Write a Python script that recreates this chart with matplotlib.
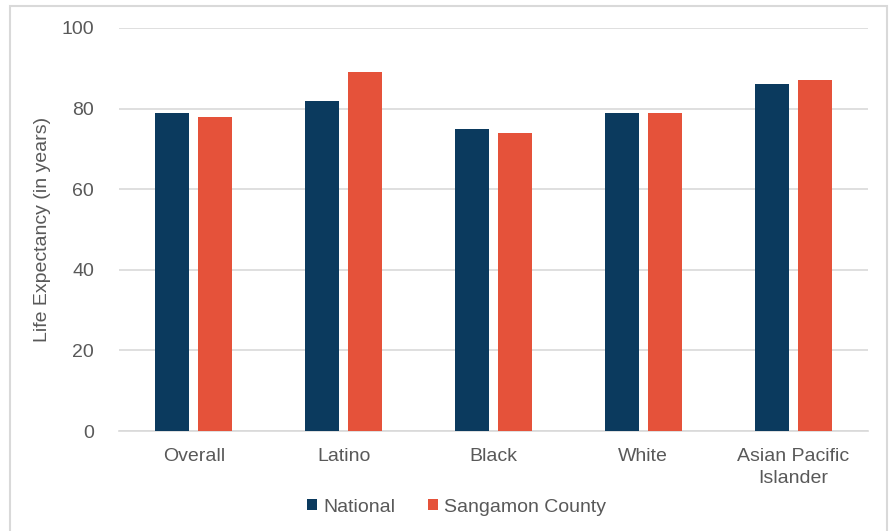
import matplotlib
matplotlib.use("Agg")
import matplotlib.pyplot as plt
import numpy as np
from matplotlib.patches import Rectangle

plt.rcParams["font.family"] = ["Liberation Sans", "DejaVu Sans"]

categories = ["Overall", "Latino", "Black", "White", "Asian Pacific\nIslander"]
national = [79, 82, 75, 79, 86]
sangamon = [78, 89, 74, 79, 87]
series_names = ["National", "Sangamon County"]
yticks = [0, 20, 40, 60, 80, 100]

NAVY = "#0B3A5E"
ORANGE = "#E5523A"
GRID = "#D9D9D9"
TEXT = "#595959"

W, H = 895, 531
fig = plt.figure(figsize=(W / 100, H / 100), dpi=100)
# axes box in pixels: x 119..868, y 28..431
ax = fig.add_axes([119 / W, 1 - 431 / H, (868 - 119) / W, (431 - 28) / H])

x = np.arange(len(categories))
bw = 0.227
off = 0.144
ax.bar(x - off, national, bw, color=NAVY, label=series_names[0], zorder=3)
ax.bar(x + off, sangamon, bw, color=ORANGE, label=series_names[1], zorder=3)

ax.set_xlim(-0.5, len(categories) - 0.5)
ax.set_ylim(0, 100)
ax.set_yticks(yticks)
ax.set_xticks(x)
ax.set_xticklabels(categories, linespacing=1.4)
ax.tick_params(axis="both", length=0, labelsize=14, colors=TEXT)
ax.tick_params(axis="y", pad=18)
ax.tick_params(axis="x", pad=12)
ax.grid(axis="y", color=GRID, linewidth=1.2, zorder=0)
for s in ["top", "right", "left"]:
    ax.spines[s].set_visible(False)
ax.spines["bottom"].set_color(GRID)
ax.spines["bottom"].set_linewidth(1.2)

ax.set_ylabel("Life Expectancy (in years)", fontsize=14, color=TEXT)
ax.yaxis.set_label_coords((51 - 119) / (868 - 119), 0.5)

leg = fig.legend(loc="center", bbox_to_anchor=(0.51, 1 - 507 / H), ncol=2,
                 frameon=False, fontsize=14, handlelength=0.5, handleheight=0.5,
                 handletextpad=0.3, columnspacing=1.7)
for t in leg.get_texts():
    t.set_color(TEXT)

# outer chart border
fig.patches.append(Rectangle((10 / W, -0.05), (887 - 10) / W, 1.05 - 6 / H,
                             transform=fig.transFigure, fill=False,
                             edgecolor=GRID, linewidth=1.5))

fig.savefig("out.png", dpi=100)
